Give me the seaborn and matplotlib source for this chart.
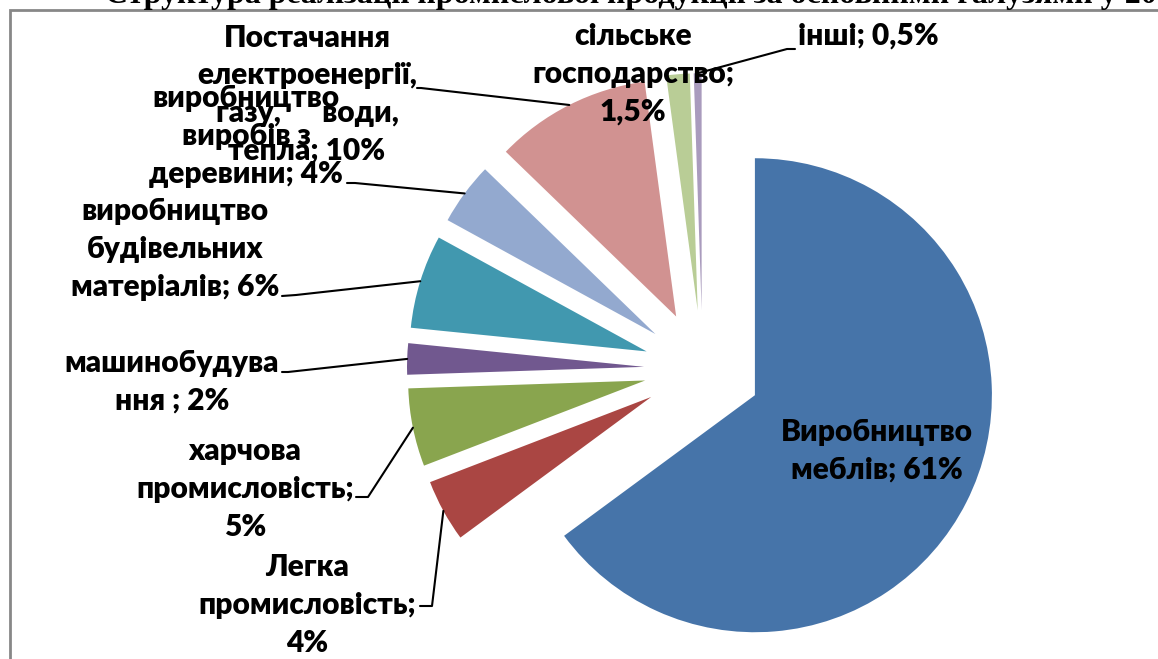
import numpy as np
import matplotlib
matplotlib.use("Agg")
import matplotlib.pyplot as plt
import seaborn as sns

# ---- data ----
categories = ["Виробництво меблів", "Легка промисловість", "харчова промисловість",
              "машинобудування", "виробництво будівельних матеріалів",
              "виробництво виробів з деревини",
              "Постачання електроенергії, газу, води, тепла",
              "сільське господарство", "інші"]
values = [61, 4, 5, 2, 6, 4, 10, 1.5, 0.5]
label_texts = ["Виробництво\nмеблів; 61%",
               "Легка\nпромисловість;\n4%",
               "харчова\nпромисловість;\n5%",
               "машинобудува\nння ; 2%",
               "виробництво\nбудівельних\nматеріалів; 6%",
               "виробництво\nвиробів з\nдеревини; 4%",
               "Постачання\nелектроенергії,\nгазу,      води,\nтепла; 10%",
               "сільське\nгосподарство;\n1,5%",
               "інші; 0,5%"]
title = "Структура реалізації промислової продукції за основними галузями у 2013 р."
slice_colors = ["#4674A9", "#AA4643", "#89A54E", "#71588F", "#4198AF",
                "#93A9CF", "#D19291", "#B9CD96", "#A99BBD"]

# ---- layout (pixel space, image coordinates: y down) ----
W, H = 1158, 659
CENTER = (702.6, 368.8)
RADIUS = 237
EXPLODE = 58.6
# label centres
label_pos = [(877, 451), (307, 605), (245, 489), (172, 382), (175, 249),
             (246, 136), (307, 94), (633, 74), (868, 36)]
# leader line start points (near label) + elbow; None = no leader
leaders = [None,
           [(420, 606), (432, 606)],
           [(356, 497), (368, 497)],
           [(282, 372), (288, 372)],
           [(282, 296), (296, 295)],
           [(347, 183), (355, 183)],
           [(417, 88), (421, 88)],
           None,
           [(795, 49), (787, 49)]]

sns.set_theme(style="white")
plt.rcParams["font.family"] = ["Lato", "DejaVu Sans"]
palette = sns.color_palette(slice_colors)

fig = plt.figure(figsize=(W / 100, H / 100), dpi=100)
ax = fig.add_axes([0, 0, 1, 1])

def Y(y):
    return H - y

wedges, _ = ax.pie(values, colors=palette, startangle=90, counterclock=False,
                   radius=RADIUS, center=(CENTER[0], Y(CENTER[1])),
                   explode=[EXPLODE] * len(values),
                   wedgeprops=dict(linewidth=0))
ax.set_xlim(0, W)
ax.set_ylim(0, H)
ax.set_aspect("equal", adjustable="box")
ax.axis("off")

# frame
fc = "#878787"
ax.plot([10, 10, W + 5], [Y(H + 5), Y(10), Y(10)], color=fc, lw=2, solid_joinstyle="miter")

# title (cropped at top)
ax.text(105, Y(2.5), title, family="Liberation Serif", fontweight="bold",
        fontsize=23, ha="left", va="baseline", color="black")

# labels and leaders
for w, txt, pos, ld in zip(wedges, label_texts, label_pos, leaders):
    ax.text(pos[0], Y(pos[1]), txt, ha="center", va="center", multialignment="center",
            fontsize=21.5, fontweight="heavy", color="black", linespacing=1.42, zorder=5)
    if ld is not None:
        tm = np.deg2rad((w.theta1 + w.theta2) / 2)
        ex = w.center[0] + w.r * np.cos(tm)
        ey = w.center[1] + w.r * np.sin(tm)
        xs = [p[0] for p in ld] + [ex]
        ys = [Y(p[1]) for p in ld] + [ey]
        ax.plot(xs, ys, color="black", lw=1.5, zorder=4)

fig.savefig("out.png", dpi=100)
